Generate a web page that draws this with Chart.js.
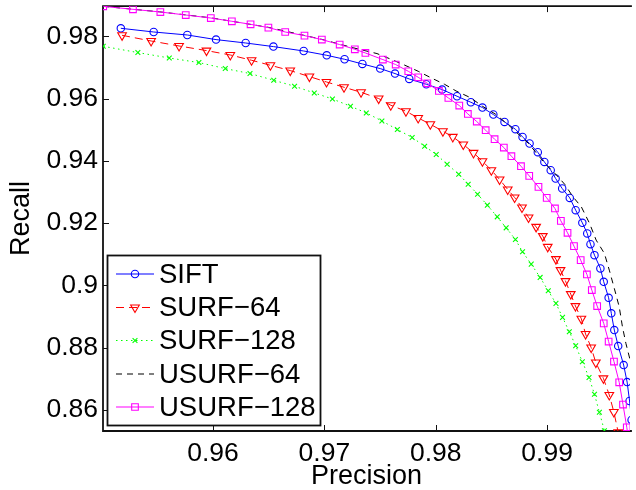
<!DOCTYPE html>
<html>
<head>
<meta charset="utf-8">
<title>Precision / Recall</title>
<script src="https://cdn.jsdelivr.net/npm/chart.js"></script>
<style>
  html, body { margin: 0; padding: 0; background: #fff; overflow: hidden; }
  #wrap { width: 636px; height: 490px; }
</style>
</head>
<body>
<div id="wrap"><canvas id="pr-chart" width="636" height="490"></canvas></div>
<script>
// Axis ticks
const xTicks = [0.96, 0.97, 0.98, 0.99];
const xTickLabels = ['0.96', '0.97', '0.98', '0.99'];
const yTicks = [0.86, 0.88, 0.90, 0.92, 0.94, 0.96, 0.98];
const yTickLabels = ['0.86', '0.88', '0.9', '0.92', '0.94', '0.96', '0.98'];

// Series names
const seriesNames = ['SIFT', 'SURF\u221264', 'SURF\u2212128', 'USURF\u221264', 'USURF\u2212128'];

// SIFT
const siftPrecision = [0.95172, 0.95467, 0.95769, 0.96027, 0.96293, 0.96542, 0.96814, 0.97021, 0.97181, 0.97341,
  0.97501, 0.97634, 0.97762, 0.97915, 0.98057, 0.98191, 0.98315, 0.98419, 0.98517, 0.98617,
  0.98715, 0.98779, 0.98842, 0.98916, 0.98975, 0.99032, 0.99076, 0.99135, 0.99203, 0.99256,
  0.99316, 0.9936, 0.99389, 0.99425, 0.99478, 0.99508, 0.99552, 0.99576, 0.99603, 0.99638,
  0.99687, 0.99718, 0.9974, 0.99758, 0.99776];
const siftRecall = [0.98257, 0.98138, 0.98042, 0.97894, 0.97785, 0.97669, 0.97528, 0.9739, 0.97262, 0.97111,
  0.96963, 0.96803, 0.96629, 0.96459, 0.96289, 0.96074, 0.95881, 0.95711, 0.95487, 0.95249,
  0.95015, 0.94768, 0.94556, 0.94276, 0.93965, 0.93699, 0.93432, 0.93111, 0.92809, 0.92415,
  0.92007, 0.91667, 0.91323, 0.9097, 0.90543, 0.90113, 0.89599, 0.89099, 0.88563, 0.88049,
  0.87439, 0.86893, 0.86284, 0.85674, 0.85032];

// SURF-64
const surf64Precision = [0.95183, 0.95444, 0.95695, 0.95941, 0.96155, 0.96346, 0.96515, 0.96693, 0.96865, 0.97019,
  0.97176, 0.97329, 0.97487, 0.97596, 0.97732, 0.97842, 0.97951, 0.98064, 0.98153, 0.98247,
  0.98339, 0.98419, 0.98499, 0.98573, 0.98646, 0.98708, 0.98774, 0.98833, 0.98901, 0.98961,
  0.99005, 0.99079, 0.9912, 0.99165, 0.99212, 0.99254, 0.99307, 0.99345, 0.99395, 0.99437,
  0.99505, 0.99558, 0.99599, 0.99638];
const surf64Recall = [0.98032, 0.97849, 0.97689, 0.97541, 0.974, 0.9723, 0.97069, 0.96899, 0.96706, 0.96533,
  0.96363, 0.96202, 0.96, 0.95785, 0.95593, 0.95377, 0.95175, 0.9495, 0.94768, 0.94524,
  0.94254, 0.93988, 0.93699, 0.934, 0.93079, 0.92822, 0.92501, 0.9218, 0.91878, 0.9158,
  0.91236, 0.90842, 0.90489, 0.90135, 0.89718, 0.89333, 0.88925, 0.88434, 0.88001, 0.87519,
  0.87012, 0.86476, 0.8593, 0.85279];

// SURF-128
const surf128Precision = [0.95014, 0.95325, 0.95607, 0.95873, 0.9611, 0.96332, 0.96545, 0.96732, 0.96909, 0.97072,
  0.97234, 0.97376, 0.97516, 0.97655, 0.97788, 0.979, 0.98004, 0.98102, 0.98206, 0.98291,
  0.98375, 0.98463, 0.98552, 0.98632, 0.98715, 0.98779, 0.98857, 0.98937, 0.9901, 0.99079,
  0.99138, 0.99199, 0.99256, 0.99316, 0.99376, 0.99425, 0.99469, 0.99514];
const surf128Recall = [0.97679, 0.97477, 0.97303, 0.97156, 0.96963, 0.96803, 0.96588, 0.96395, 0.9618, 0.95987,
  0.95753, 0.95538, 0.95281, 0.95005, 0.94748, 0.94469, 0.94203, 0.93891, 0.9357, 0.93249,
  0.92928, 0.92575, 0.922, 0.91846, 0.91474, 0.91076, 0.90681, 0.90254, 0.89824, 0.8942,
  0.8897, 0.88508, 0.88059, 0.87545, 0.87038, 0.86499, 0.85921, 0.8533];

// USURF-64
const usurf64Precision = [0.95012, 0.95518, 0.9598, 0.96495, 0.96974, 0.97258, 0.97472, 0.97605, 0.97723, 0.97842,
  0.9796, 0.98078, 0.98182, 0.98309, 0.98419, 0.98537, 0.98655, 0.98833, 0.98981, 0.99085,
  0.99159, 0.99232, 0.99307, 0.99381, 0.9944, 0.99514, 0.99558, 0.99603, 0.99647, 0.99676,
  0.99707, 0.99745, 0.9978];
const usurf64Recall = [0.98963, 0.98786, 0.98594, 0.98289, 0.97904, 0.97631, 0.97445, 0.97252, 0.97069, 0.96877,
  0.96661, 0.96459, 0.96244, 0.96032, 0.95753, 0.95496, 0.95143, 0.94556, 0.93914, 0.93538,
  0.9324, 0.92842, 0.9252, 0.91988, 0.91452, 0.91025, 0.90489, 0.89901, 0.8931, 0.88668,
  0.88135, 0.876, 0.86958];

// USURF-128
const usurf128Precision = [0.95014, 0.95281, 0.95527, 0.95755, 0.9598, 0.96169, 0.96337, 0.96497, 0.96648, 0.96821,
  0.96977, 0.97137, 0.97273, 0.97368, 0.97525, 0.9764, 0.97753, 0.97842, 0.97924, 0.98028,
  0.98113, 0.98211, 0.98288, 0.98368, 0.98448, 0.98528, 0.98611, 0.98679, 0.98765, 0.98839,
  0.98922, 0.98996, 0.9907, 0.99123, 0.99183, 0.99241, 0.99301, 0.99357, 0.99401, 0.99449,
  0.99508, 0.99552, 0.996, 0.99647, 0.99681, 0.99715, 0.99745];
const usurf128Recall = [0.98963, 0.98867, 0.9878, 0.98684, 0.98587, 0.98482, 0.98385, 0.98279, 0.98138, 0.98022,
  0.97894, 0.97734, 0.97583, 0.97464, 0.97252, 0.97092, 0.96877, 0.96684, 0.96491, 0.96244,
  0.96019, 0.95775, 0.95506, 0.95262, 0.94983, 0.94694, 0.94427, 0.94148, 0.93827, 0.93516,
  0.93162, 0.92809, 0.92469, 0.92071, 0.91686, 0.91259, 0.9081, 0.9035, 0.89847, 0.89333,
  0.88778, 0.88193, 0.87551, 0.86884, 0.86171, 0.85439, 0.84711];

const FONT = "'Liberation Sans', Arial, Helvetica, sans-serif";

function toPoints(xs, ys) {
  return xs.map((x, i) => ({ x: x, y: ys[i] }));
}

// line / marker styles, one per series
const styles = [
  { color: '#0000ff', dash: [], marker: 'circle', radius: 3.7, rotation: 0 },
  { color: '#ff0000', dash: [8, 5], marker: 'triangle', radius: 5, rotation: 180 },
  { color: '#00ff00', dash: [1.5, 3.5], marker: 'crossRot', radius: 3.4, rotation: 0 },
  { color: '#000000', dash: [6, 5], marker: false, radius: 0, rotation: 0 },
  { color: '#ff00ff', dash: [], marker: 'rect', radius: 4.7, rotation: 0 }
];

const seriesData = [
  toPoints(siftPrecision, siftRecall),
  toPoints(surf64Precision, surf64Recall),
  toPoints(surf128Precision, surf128Recall),
  toPoints(usurf64Precision, usurf64Recall),
  toPoints(usurf128Precision, usurf128Recall)
];

const datasets = seriesData.map((pts, i) => {
  const s = styles[i];
  return {
    label: seriesNames[i],
    data: pts,
    showLine: true,
    tension: 0,
    borderColor: s.color,
    borderWidth: 1,
    borderDash: s.dash,
    pointStyle: s.marker,
    pointRadius: s.marker ? s.radius : 0,
    pointRotation: s.rotation,
    pointBorderColor: s.color,
    pointBackgroundColor: 'rgba(0,0,0,0)',
    pointBorderWidth: 1.1,
    order: seriesData.length - i   // later series sit on top
  };
});

// small marker painter for the legend samples
function drawMarker(ctx, s, x, y) {
  const r = s.radius;
  ctx.beginPath();
  if (s.marker === 'circle') {
    ctx.arc(x, y, r, 0, Math.PI * 2);
  } else if (s.marker === 'triangle') {
    ctx.moveTo(x, y + r);
    ctx.lineTo(x - r * 0.866, y - r * 0.5);
    ctx.lineTo(x + r * 0.866, y - r * 0.5);
    ctx.closePath();
  } else if (s.marker === 'crossRot') {
    const d = r * 0.7071;
    ctx.moveTo(x - d, y - d); ctx.lineTo(x + d, y + d);
    ctx.moveTo(x + d, y - d); ctx.lineTo(x - d, y + d);
  } else if (s.marker === 'rect') {
    const d = r * 0.7071;
    ctx.rect(x - d, y - d, 2 * d, 2 * d);
  }
  ctx.stroke();
}

// box, inward tick marks and legend in the MATLAB manner
const matlabAxes = {
  id: 'matlabAxes',
  beforeDatasetsDraw(chart) {
    const { ctx, chartArea: a, scales } = chart;
    ctx.save();
    ctx.strokeStyle = '#111';
    ctx.lineWidth = 1.8;
    ctx.beginPath();
    ctx.moveTo(a.right + 2, a.top);
    ctx.lineTo(a.left, a.top);
    ctx.lineTo(a.left, a.bottom);
    ctx.lineTo(a.right + 2, a.bottom);
    ctx.stroke();

    ctx.lineWidth = 1;
    ctx.beginPath();
    scales.x.ticks.forEach(t => {
      const px = Math.round(scales.x.getPixelForValue(t.value)) + 0.5;
      ctx.moveTo(px, a.bottom); ctx.lineTo(px, a.bottom - 6);
      ctx.moveTo(px, a.top); ctx.lineTo(px, a.top + 6);
    });
    scales.y.ticks.forEach(t => {
      const py = Math.round(scales.y.getPixelForValue(t.value)) + 0.5;
      ctx.moveTo(a.left, py); ctx.lineTo(a.left + 6, py);
    });
    ctx.stroke();
    ctx.restore();
  },
  afterDraw(chart) {
    const ctx = chart.ctx;
    const box = { left: 107.5, top: 255.5, right: 320.5, bottom: 425.5 };
    const rowY = [274, 307.5, 340.5, 374, 407];
    ctx.save();
    ctx.fillStyle = '#fff';
    ctx.fillRect(box.left, box.top, box.right - box.left, box.bottom - box.top);
    ctx.strokeStyle = '#111';
    ctx.lineWidth = 1.8;
    ctx.strokeRect(box.left, box.top, box.right - box.left, box.bottom - box.top);

    seriesNames.forEach((name, i) => {
      const s = styles[i];
      const y = rowY[i];
      ctx.strokeStyle = s.color;
      ctx.lineWidth = 1.1;
      ctx.setLineDash(s.dash);
      ctx.beginPath();
      ctx.moveTo(116, y);
      ctx.lineTo(154, y);
      ctx.stroke();
      ctx.setLineDash([]);
      if (s.marker) drawMarker(ctx, s, 135, y);

      ctx.fillStyle = '#000';
      ctx.font = '27.5px ' + FONT;
      ctx.textBaseline = 'middle';
      ctx.textAlign = 'left';
      ctx.fillText(name, 159, y + 1);
    });
    ctx.restore();
  }
};

const X_MIN = 0.95012, X_MAX = 0.99743;
const Y_MIN = 0.8532, Y_MAX = 0.9897;

new Chart(document.getElementById('pr-chart'), {
  type: 'scatter',
  data: { datasets: datasets },
  plugins: [matlabAxes],
  options: {
    responsive: false,
    animation: false,
    devicePixelRatio: 1,
    events: [],
    layout: { padding: { top: 6, right: 0, bottom: 0, left: 0 } },
    plugins: {
      legend: { display: false },
      tooltip: { enabled: false }
    },
    scales: {
      x: {
        type: 'linear',
        min: X_MIN,
        max: X_MAX,
        grid: { display: false, drawTicks: false },
        border: { display: false },
        ticks: {
          color: '#000',
          font: { family: FONT, size: 26.5 },
          padding: 7,
          autoSkip: false,
          maxRotation: 0,
          callback: (v, i) => xTickLabels[i]
        },
        afterBuildTicks: scale => { scale.ticks = xTicks.map(v => ({ value: v })); },
        afterFit: scale => {
          scale.height = 59;
          scale.paddingLeft = 0;
          scale.paddingRight = 0;
        },
        title: {
          display: true,
          text: 'Precision',
          color: '#000',
          font: { family: FONT, size: 27, lineHeight: 1 },
          padding: { top: 0, bottom: 0 }
        }
      },
      y: {
        type: 'linear',
        min: Y_MIN,
        max: Y_MAX,
        grid: { display: false, drawTicks: false },
        border: { display: false },
        ticks: {
          color: '#000',
          font: { family: FONT, size: 26.5 },
          padding: 5,
          autoSkip: false,
          callback: (v, i) => yTickLabels[i]
        },
        afterBuildTicks: scale => { scale.ticks = yTicks.map(v => ({ value: v })); },
        afterFit: scale => {
          scale.width = 103;
          scale.paddingTop = 0;
          scale.paddingBottom = 0;
        },
        title: {
          display: true,
          text: 'Recall',
          color: '#000',
          font: { family: FONT, size: 27, lineHeight: 1 },
          padding: { top: 8, bottom: 0 }
        }
      }
    }
  }
});
</script>
</body>
</html>
